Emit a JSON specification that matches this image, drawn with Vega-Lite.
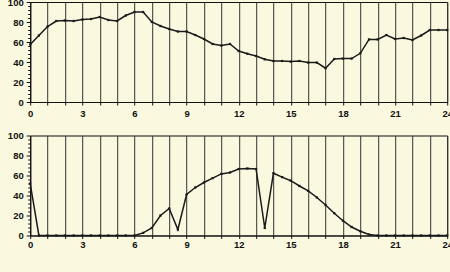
{
  "$schema": "https://vega.github.io/schema/vega-lite/v6.json",
  "autosize": {"type": "pad"},
  "padding": {"left": 6.2, "top": -4, "right": 0, "bottom": 25},
  "background": "#fbf8e0",
  "bounds": "flush",
  "spacing": 33.5,
  "config": {
    "view": {"stroke": "#111", "strokeWidth": 1},
    "axis": {
      "labelFont": "Liberation Sans", "labelFontWeight": "bold", "labelFontSize": 9.5, "labelColor": "#111",
      "domainColor": "#111", "tickColor": "#111", "title": null
    }
  },
  "datasets": {
    "top": [
      {"hour": 0, "value": 57.6}, {"hour": 0.5, "value": 66.5}, {"hour": 1, "value": 75.5}, {"hour": 1.5, "value": 81},
      {"hour": 2, "value": 81.5}, {"hour": 2.5, "value": 81}, {"hour": 3, "value": 82.5}, {"hour": 3.5, "value": 83},
      {"hour": 4, "value": 85}, {"hour": 4.5, "value": 82}, {"hour": 5, "value": 81}, {"hour": 5.5, "value": 86.5},
      {"hour": 6, "value": 90}, {"hour": 6.5, "value": 90}, {"hour": 7, "value": 80}, {"hour": 7.5, "value": 76},
      {"hour": 8, "value": 73}, {"hour": 8.5, "value": 70.5}, {"hour": 9, "value": 70.5}, {"hour": 9.5, "value": 67},
      {"hour": 10, "value": 63}, {"hour": 10.5, "value": 58}, {"hour": 11, "value": 56.5}, {"hour": 11.5, "value": 58},
      {"hour": 12, "value": 51}, {"hour": 12.5, "value": 48.3}, {"hour": 13, "value": 46}, {"hour": 13.5, "value": 42.7},
      {"hour": 14, "value": 41}, {"hour": 14.5, "value": 41}, {"hour": 15, "value": 40.4}, {"hour": 15.5, "value": 41},
      {"hour": 16, "value": 39.4}, {"hour": 16.5, "value": 39.4}, {"hour": 17, "value": 33.8}, {"hour": 17.5, "value": 43},
      {"hour": 18, "value": 43.4}, {"hour": 18.5, "value": 43.4}, {"hour": 19, "value": 48.7}, {"hour": 19.5, "value": 62.6},
      {"hour": 20, "value": 62.6}, {"hour": 20.5, "value": 67}, {"hour": 21, "value": 63}, {"hour": 21.5, "value": 64},
      {"hour": 22, "value": 62}, {"hour": 22.5, "value": 66.5}, {"hour": 23, "value": 72}, {"hour": 23.5, "value": 72},
      {"hour": 24, "value": 72}
    ],
    "bottom": [
      {"hour": 0, "value": 52}, {"hour": 0.5, "value": 0}, {"hour": 1, "value": 0}, {"hour": 1.5, "value": 0},
      {"hour": 2, "value": 0}, {"hour": 2.5, "value": 0}, {"hour": 3, "value": 0}, {"hour": 3.5, "value": 0},
      {"hour": 4, "value": 0}, {"hour": 4.5, "value": 0}, {"hour": 5, "value": 0}, {"hour": 5.5, "value": 0},
      {"hour": 6, "value": 0}, {"hour": 6.5, "value": 2.6}, {"hour": 7, "value": 7.5}, {"hour": 7.5, "value": 20},
      {"hour": 8, "value": 27}, {"hour": 8.5, "value": 6}, {"hour": 9, "value": 41}, {"hour": 9.5, "value": 48},
      {"hour": 10, "value": 53}, {"hour": 10.5, "value": 57.4}, {"hour": 11, "value": 61.6}, {"hour": 11.5, "value": 63},
      {"hour": 12, "value": 66.5}, {"hour": 12.5, "value": 67}, {"hour": 13, "value": 66.5}, {"hour": 13.5, "value": 7.5},
      {"hour": 14, "value": 62.3}, {"hour": 14.5, "value": 58.4}, {"hour": 15, "value": 54.8}, {"hour": 15.5, "value": 49.5},
      {"hour": 16, "value": 44.6}, {"hour": 16.5, "value": 38}, {"hour": 17, "value": 30.5}, {"hour": 17.5, "value": 22.3},
      {"hour": 18, "value": 14.8}, {"hour": 18.5, "value": 8.5}, {"hour": 19, "value": 4.3}, {"hour": 19.5, "value": 1},
      {"hour": 20, "value": 0}, {"hour": 20.5, "value": 0}, {"hour": 21, "value": 0}, {"hour": 21.5, "value": 0},
      {"hour": 22, "value": 0}, {"hour": 22.5, "value": 0}, {"hour": 23, "value": 0}, {"hour": 23.5, "value": 0},
      {"hour": 24, "value": 0}
    ]
  },
  "vconcat": [
    {
      "width": 417, "height": 100,
      "data": {"name": "top"},
      "resolve": {"axis": {"y": "independent"}},
      "encoding": {
        "x": {"field": "hour", "type": "quantitative", "scale": {"domain": [0, 24], "nice": false},
          "axis": {"values": [0,1,2,3,4,5,6,7,8,9,10,11,12,13,14,15,16,17,18,19,20,21,22,23,24],
            "labelExpr": "datum.value % 3 === 0 ? datum.label : ''", "grid": true, "gridColor": "#333", "gridOpacity": 1, "gridWidth": 1,
            "tickSize": 3, "labelPadding": 3, "labelFlush": false}}
      },
      "layer": [
        {
          "mark": {"type": "line", "color": "#1a1a1a", "strokeWidth": 1.5},
          "encoding": {
            "y": {"field": "value", "type": "quantitative", "scale": {"domain": [0, 100], "nice": false},
              "axis": {"values": [0, 20, 40, 60, 80, 100], "grid": false, "tickSize": 4, "labelPadding": 3, "orient": "left"}}
          }
        },
        {
          "mark": {"type": "point", "shape": "square", "filled": true, "size": 5, "color": "#1a1a1a", "opacity": 1},
          "encoding": {
            "y": {"field": "value", "type": "quantitative",
              "axis": {"values": [4,8,12,16,24,28,32,36,44,48,52,56,64,68,72,76,84,88,92,96], "labels": false, "domain": false, "grid": false, "tickSize": 2.5, "orient": "left"}}
          }
        }
      ]
    },
    {
      "width": 417, "height": 100,
      "data": {"name": "bottom"},
      "resolve": {"axis": {"y": "independent"}},
      "encoding": {
        "x": {"field": "hour", "type": "quantitative", "scale": {"domain": [0, 24], "nice": false},
          "axis": {"values": [0,1,2,3,4,5,6,7,8,9,10,11,12,13,14,15,16,17,18,19,20,21,22,23,24],
            "labelExpr": "datum.value % 3 === 0 ? datum.label : ''", "grid": true, "gridColor": "#333", "gridOpacity": 1, "gridWidth": 1,
            "tickSize": 3, "labelPadding": 1.5, "labelFlush": false}}
      },
      "layer": [
        {
          "mark": {"type": "line", "color": "#1a1a1a", "strokeWidth": 1.5},
          "encoding": {
            "y": {"field": "value", "type": "quantitative", "scale": {"domain": [0, 100], "nice": false},
              "axis": {"values": [0, 20, 40, 60, 80, 100], "grid": false, "tickSize": 4, "labelPadding": 3, "orient": "left"}}
          }
        },
        {
          "mark": {"type": "point", "shape": "square", "filled": true, "size": 5, "color": "#1a1a1a", "opacity": 1},
          "encoding": {
            "y": {"field": "value", "type": "quantitative",
              "axis": {"values": [4,8,12,16,24,28,32,36,44,48,52,56,64,68,72,76,84,88,92,96], "labels": false, "domain": false, "grid": false, "tickSize": 2.5, "orient": "left"}}
          }
        }
      ]
    }
  ]
}
